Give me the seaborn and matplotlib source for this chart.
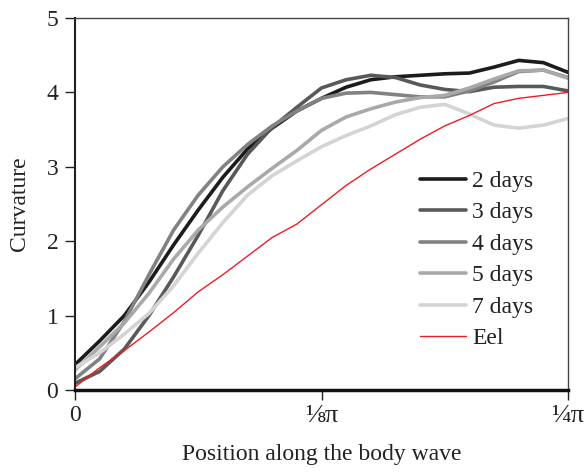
import numpy as np
import pandas as pd
import matplotlib
matplotlib.use("Agg")
import matplotlib.pyplot as plt
import seaborn as sns

# ---- data (x as fraction of 1/4 pi) ----
x = [0.0, 0.05, 0.10, 0.15, 0.20, 0.25, 0.30, 0.35, 0.40, 0.45, 0.50,
     0.55, 0.60, 0.65, 0.70, 0.75, 0.80, 0.85, 0.90, 0.95, 1.00]
days2 = [0.34, 0.66, 1.00, 1.45, 1.95, 2.42, 2.86, 3.24, 3.52, 3.75, 3.92,
         4.07, 4.17, 4.21, 4.23, 4.25, 4.26, 4.34, 4.43, 4.40, 4.27]
days3 = [0.09, 0.25, 0.55, 1.00, 1.52, 2.08, 2.68, 3.17, 3.53, 3.80, 4.06,
         4.17, 4.23, 4.20, 4.10, 4.04, 4.01, 4.07, 4.08, 4.08, 4.02]
days4 = [0.15, 0.42, 0.92, 1.55, 2.15, 2.62, 3.00, 3.30, 3.55, 3.75, 3.92,
         3.99, 4.00, 3.97, 3.94, 3.94, 4.02, 4.14, 4.28, 4.30, 4.20]
days5 = [0.27, 0.58, 0.90, 1.30, 1.76, 2.15, 2.46, 2.73, 2.98, 3.22, 3.49,
         3.67, 3.78, 3.87, 3.93, 3.96, 4.06, 4.18, 4.29, 4.30, 4.19]
days7 = [0.30, 0.50, 0.75, 1.03, 1.40, 1.84, 2.25, 2.62, 2.88, 3.08, 3.27,
         3.42, 3.55, 3.70, 3.80, 3.84, 3.71, 3.56, 3.52, 3.56, 3.65]
eel = [0.04, 0.30, 0.53, 0.78, 1.04, 1.32, 1.55, 1.80, 2.05, 2.23, 2.49,
       2.75, 2.97, 3.17, 3.37, 3.55, 3.69, 3.85, 3.92, 3.96, 4.00]

series_names = ["2 days", "3 days", "4 days", "5 days", "7 days", "Eel"]
series_values = [days2, days3, days4, days5, days7, eel]
xtick_pos = [0.0, 0.5, 1.0]
xtick_labels = ["0", "\u215b\u03c0", "\u00bc\u03c0"]

df = pd.concat(
    [pd.DataFrame({"x": x, "y": v, "series": n}) for n, v in zip(series_names, series_values)],
    ignore_index=True,
)

palette = {"2 days": "#1c1c1c", "3 days": "#595959", "4 days": "#828282",
           "5 days": "#a9a9a9", "7 days": "#d4d4d4", "Eel": "#ee1c24"}
sizes = {"2 days": 2.6, "3 days": 2.6, "4 days": 2.6, "5 days": 2.6, "7 days": 2.6, "Eel": 1.0}

sns.set_style("ticks")
plt.rcParams["font.family"] = ["Liberation Serif", "DejaVu Serif"]

fig = plt.figure(figsize=(5.84, 4.72), dpi=100)
ax = fig.add_axes([75 / 584, 1 - 390 / 472, 493 / 584, 372 / 472])

sns.lineplot(data=df, x="x", y="y", hue="series", size="series",
             hue_order=series_names, size_order=series_names,
             palette=palette, sizes=sizes, ax=ax, legend=True)

ax.set_xlim(0, 1)
ax.set_ylim(0, 5)
ax.set_xticks(xtick_pos)
ax.set_xticklabels(xtick_labels)
ax.set_yticks([0, 1, 2, 3, 4, 5])

ax.tick_params(axis="both", direction="out", length=7, width=1, colors="#222222",
               labelsize=17, labelcolor="#222222", pad=5)
ax.tick_params(axis="x", pad=4)
for lab in ax.get_xticklabels()[1:]:
    lab.set_fontsize(19)

ax.spines["left"].set_linewidth(1.5)
ax.spines["left"].set_color("#222222")
ax.spines["bottom"].set_linewidth(2.5)
ax.spines["bottom"].set_color("#111111")
for side in ["top", "right"]:
    ax.spines[side].set_visible(True)
    ax.spines[side].set_linewidth(1.0)
    ax.spines[side].set_color("#444444")

ax.set_xlabel("Position along the body wave", fontsize=17, color="#222222", labelpad=12)
ax.set_ylabel("Curvature", fontsize=17, color="#222222", labelpad=12)

h, l = ax.get_legend_handles_labels()
leg = ax.legend(h, l, loc="upper left", bbox_to_anchor=(0.70, 0.59), frameon=False,
                fontsize=17, handlelength=1.95, handletextpad=0.25, labelspacing=0.42,
                borderpad=0, borderaxespad=0)
for t in leg.get_texts():
    t.set_color("#222222")

fig.savefig("out.png", dpi=100)
